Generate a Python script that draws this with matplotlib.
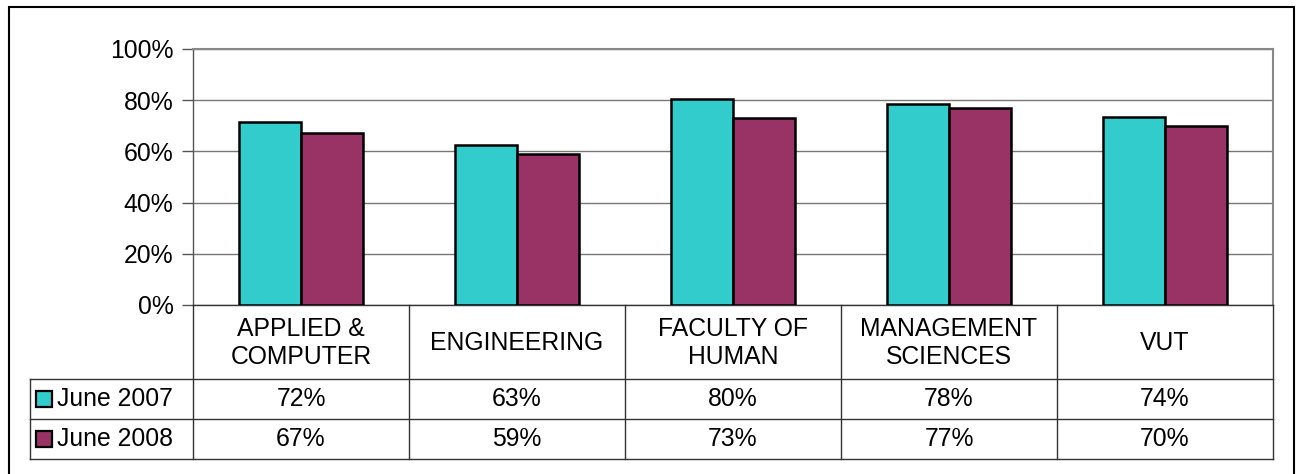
import matplotlib.pyplot as plt
from matplotlib.patches import Rectangle

plt.rcParams['font.family'] = ['Liberation Sans', 'DejaVu Sans']

categories = ["APPLIED &\nCOMPUTER", "ENGINEERING", "FACULTY OF\nHUMAN",
              "MANAGEMENT\nSCIENCES", "VUT"]
series_names = ["June 2007", "June 2008"]
june_2007 = [71.6, 62.6, 80.5, 78.5, 73.6]
june_2008 = [67.0, 59.0, 73.0, 77.0, 70.0]
colors = ["#33CCCC", "#993366"]
yticks = [0, 20, 40, 60, 80, 100]

W, H = 1296, 474
FS = 17.8


def main():
    fig = plt.figure(figsize=(W / 100, H / 100), dpi=100)

    # plot area in pixels: x 193..1273, y 49..305
    ax = fig.add_axes([193 / W, 1 - 305 / H, 1080 / W, 256 / H])
    n = len(categories)
    bw = 0.287
    xs = list(range(n))
    for k, vals in enumerate([june_2007, june_2008]):
        off = (k - 0.5) * bw
        ax.bar([x + off for x in xs], vals, width=bw, color=colors[k],
               edgecolor="black", linewidth=1.8, zorder=3)

    ax.set_xlim(-0.5, n - 0.5)
    ax.set_ylim(0, 100)
    ax.set_yticks(yticks)
    ax.set_yticklabels([f"{t}%" for t in yticks], fontsize=FS)
    ax.set_xticks([])
    ax.tick_params(axis="y", length=8, width=1, color="#555555", pad=6)
    ax.grid(axis="y", color="#777777", linewidth=1.0, zorder=0)
    for s in ax.spines.values():
        s.set_color("#888888")
        s.set_linewidth(1.5)
    ax.spines["left"].set_color("#555555")
    ax.spines["left"].set_linewidth(1.0)
    ax.spines["bottom"].set_color("#333333")
    ax.spines["bottom"].set_linewidth(1.0)

    # data table below the plot: x in category units, y in pixels from y=305
    left_units = -0.5 - (193 - 30) / 216
    tax = fig.add_axes([30 / W, 1 - 459 / H, (1273 - 30) / W, 154 / H])
    tax.set_xlim(left_units, n - 0.5)
    tax.set_ylim(154, 0)
    tax.axis("off")

    lc = "#333333"
    r1, r2, r3 = 74, 114, 154
    for y in (r1, r2, r3):
        tax.plot([left_units, n - 0.5], [y, y], color=lc, lw=1.0, clip_on=False)
    tax.plot([left_units, left_units], [r1, r3], color=lc, lw=1.0, clip_on=False)
    for i in range(n + 1):
        tax.plot([i - 0.5, i - 0.5], [0, r3], color=lc, lw=1.0, clip_on=False)

    for i, cat in enumerate(categories):
        tax.text(i, r1 / 2 + 1, cat, ha="center", va="center", fontsize=FS,
                 linespacing=1.25)
        tax.text(i, (r1 + r2) / 2, f"{june_2007[i]:.0f}%", ha="center",
                 va="center", fontsize=FS)
        tax.text(i, (r2 + r3) / 2, f"{june_2008[i]:.0f}%", ha="center",
                 va="center", fontsize=FS)

    sw = 16 / 216
    for k, name in enumerate(series_names):
        yc = (r1 + r2) / 2 if k == 0 else (r2 + r3) / 2
        x0 = -0.5 + (36 - 193) / 216
        tax.add_patch(Rectangle((x0, yc - 8), sw, 16, facecolor=colors[k],
                                edgecolor="black", linewidth=1.6, clip_on=False))
        tax.text(-0.5 + (57 - 193) / 216, yc, name, ha="left", va="center",
                 fontsize=FS)

    # outer chart border (bottom edge runs off the image)
    fig.patches.append(Rectangle((9 / W, -0.05), (1294 - 9) / W, 1.05 - 7 / H,
                                 transform=fig.transFigure, fill=False,
                                 edgecolor="black", linewidth=1.5))

    fig.savefig("out.png", dpi=100)


if __name__ == "__main__":
    main()
